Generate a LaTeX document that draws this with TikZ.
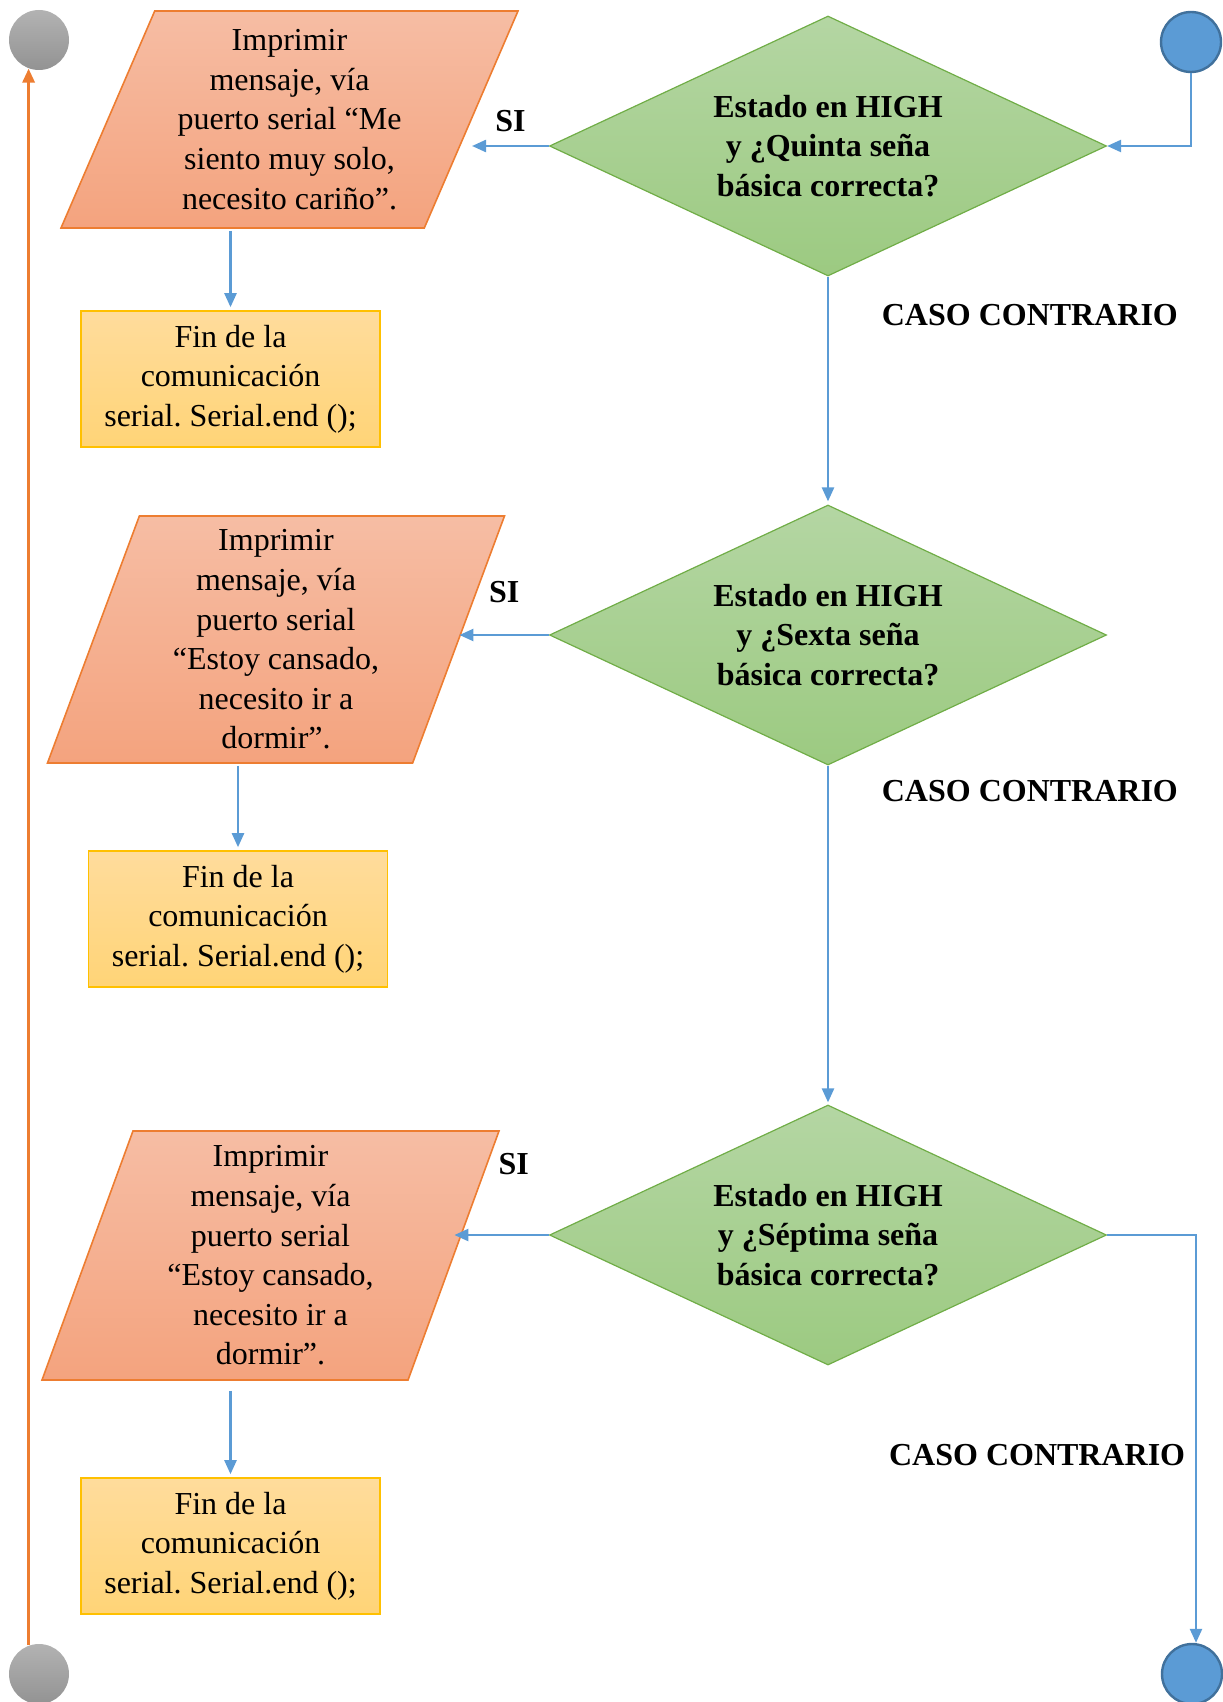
\documentclass[tikz,border=0pt]{standalone}
\usepackage{fontspec}
\setmainfont{Liberation Serif}
\usetikzlibrary{arrows.meta,shapes.geometric}
\definecolor{flowblue}{HTML}{5B9BD5}
\definecolor{darkblue}{HTML}{41719C}
\definecolor{accent}{HTML}{ED7D31}
\definecolor{peachtop}{HTML}{F6BDA4}
\definecolor{peachbot}{HTML}{F4A37E}
\definecolor{goldline}{HTML}{FFC000}
\definecolor{goldtop}{HTML}{FFDC9C}
\definecolor{goldbot}{HTML}{FFD477}
\definecolor{greenline}{HTML}{70AD47}
\definecolor{greentop}{HTML}{B4D6A3}
\definecolor{greenbot}{HTML}{9CCA81}
\frenchspacing

\begin{document}
\begin{tikzpicture}[x=.5pt,y=-.5pt,>={Triangle[length=7pt,width=6pt]},
  font=\fontsize{16}{19.8}\selectfont,
  flow/.style={->,flowblue,line width=1.2pt},
  io/.style={trapezium,trapezium stretches body,draw=accent,line width=.8pt,top color=peachtop,bottom color=peachbot,align=center,inner sep=0pt,minimum width=228.5pt},
  endbox/.style={rectangle,draw=goldline,line width=.8pt,top color=goldtop,bottom color=goldbot,align=center,minimum width=149.5pt,minimum height=68pt,inner sep=0pt},
  ask/.style={diamond,aspect=2.13,draw=greenline,line width=.6pt,top color=greentop,bottom color=greenbot,align=center,font=\fontsize{16}{19.8}\selectfont\bfseries,minimum width=278.5pt,minimum height=130pt,inner sep=0pt},
  lbl/.style={text=black,font=\fontsize{16}{19.8}\selectfont\bfseries},
  grayend/.style={circle,minimum size=30pt,inner sep=0pt,top color=gray!60,bottom color=gray!85},
  blueend/.style={circle,minimum size=30pt,inner sep=0pt,fill=flowblue,draw=darkblue,line width=1.2pt}]
 \useasboundingbox (0,0) rectangle (1222,1702);
 % end points
 \node[grayend] (ct) at (39,40) {};
 \node[grayend] (cb) at (39,1674) {};
 \node[blueend] (bt) at (1191,42) {};
 \node[blueend] (bb) at (1192,1674) {};
 % decisions
 \node[ask] (d1) at (828,146) {Estado en HIGH\\y ¿Quinta seña\\básica correcta?};
 \node[ask] (d2) at (828,635) {Estado en HIGH\\y ¿Sexta seña\\básica correcta?};
 \node[ask] (d3) at (828,1235) {Estado en HIGH\\y ¿Séptima seña\\básica correcta?};
 % messages
 \node[io,trapezium left angle=62.5,trapezium right angle=117.5,minimum height=108.5pt] (p1) at (289.5,119.5) {Imprimir\\mensaje, vía\\puerto serial “Me\\siento muy solo,\\necesito cariño”.};
 \node[io,trapezium left angle=67.3,trapezium right angle=112.7,minimum height=123.5pt] (p2) at (276,639.5) {Imprimir\\mensaje, vía\\puerto serial\\“Estoy cansado,\\necesito ir a\\dormir”.};
 \node[io,trapezium left angle=67.5,trapezium right angle=112.5,minimum height=124.5pt] (p3) at (270.5,1255.5) {Imprimir\\mensaje, vía\\puerto serial\\“Estoy cansado,\\necesito ir a\\dormir”.};
 \node[endbox] (b1) at (230.5,379) {Fin de la\\comunicación\\serial. Serial.end ();};
 \node[endbox] (b2) at (238,919) {Fin de la\\comunicación\\serial. Serial.end ();};
 \node[endbox] (b3) at (230.5,1546) {Fin de la\\comunicación\\serial. Serial.end ();};
 % connectors
 \draw[flow] (bt.south) |- (d1.east);
 \draw[flow] (d1.west) -- node[lbl,above=3pt] {SI} (d1.west -| p1.east);
 \draw[flow] (d2.west) -- node[lbl,above=12pt] {SI} (d2.west -| p2.east);
 \draw[flow] (d3.west) -- node[lbl,above=26pt,xshift=6pt] {SI} (d3.west -| p3.east);
 \draw[flow,shorten >=1.5pt] (d1.south) -- node[lbl,pos=.17,right=23pt] {CASO CONTRARIO} (d2.north);
 \draw[flow,shorten >=1pt] (d2.south) -- node[lbl,pos=.075,right=23pt] {CASO CONTRARIO} (d3.north);
 \draw[flow] (d3.east) -| node[lbl,pos=.77,left=1.5pt] {CASO CONTRARIO} ([xshift=2pt]bb.north);
 \draw[flow,shorten <=1pt,shorten >=1.5pt] (b1.north |- p1.south) -- (b1.north);
 \draw[flow,shorten <=1pt,shorten >=1.5pt] (b2.north |- p2.south) -- (b2.north);
 \draw[flow,shorten <=5pt,shorten >=1.5pt] (b3.north |- p3.south) -- (b3.north);
 \draw[->,accent,line width=1.5pt] (cb.110) -- (ct.250);
\end{tikzpicture}
\end{document}
